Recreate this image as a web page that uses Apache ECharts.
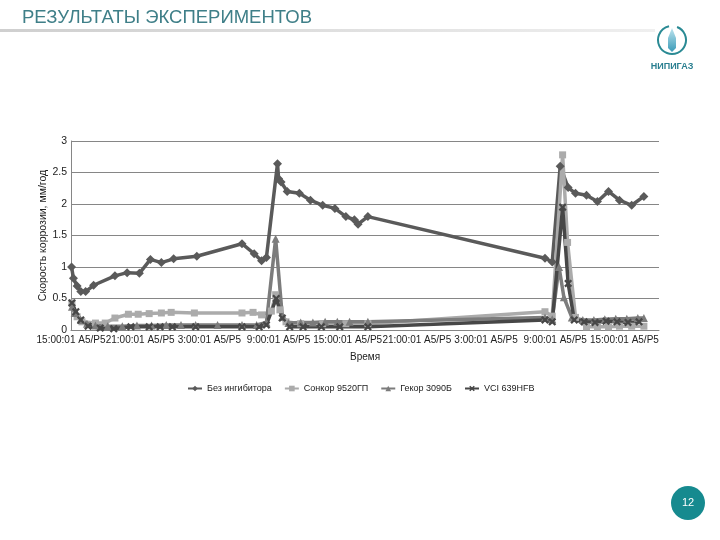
<!DOCTYPE html>
<html>
<head>
<meta charset="utf-8">
<script src="https://cdn.jsdelivr.net/npm/echarts@6/dist/echarts.min.js"></script>
<style>html,body{margin:0;padding:0;background:#fff;}#c{width:720px;height:540px;}</style>
</head>
<body>
<div id="c"></div>
<script>
// X tick labels (every 6 hours)
var tickLabels = ['15:00:01 A5/P5','21:00:01 A5/P5','3:00:01 A5/P5','9:00:01 A5/P5','15:00:01 A5/P5','21:00:01 A5/P5','3:00:01 A5/P5','9:00:01 A5/P5','15:00:01 A5/P5'];
var seriesNames = ['Без ингибитора','Сонкор 9520ГП','Гекор 3090Б','VCI 639HFB'];

// Series 1: Без ингибитора (hours from start, mm/year)
var t1 = [0.05,0.21,0.53,0.85,1.27,1.96,3.81,4.87,5.93,6.89,7.84,8.9,10.91,14.83,15.89,16.53,16.95,17.91,18.01,18.22,18.75,19.81,20.77,21.83,22.89,23.84,24.58,24.9,25.75,41.11,41.74,42.43,43.12,43.76,44.71,45.66,46.62,47.57,48.63,49.69];
var v1 = [1.0,0.82,0.7,0.61,0.61,0.71,0.86,0.91,0.9,1.12,1.07,1.13,1.17,1.37,1.21,1.1,1.15,2.64,2.4,2.35,2.2,2.17,2.06,1.98,1.93,1.8,1.75,1.68,1.8,1.14,1.08,2.6,2.26,2.17,2.14,2.04,2.2,2.06,1.98,2.12];

// Series 2: Сонкор 9520ГП
var t2 = [0.08,0.53,0.95,2.12,2.97,3.81,4.98,5.83,6.78,7.84,8.69,10.7,14.83,15.79,16.53,17.38,17.75,18.12,18.65,19.92,21.83,23.84,25.75,41.11,41.74,42.64,43.07,43.76,44.71,45.66,46.62,47.57,48.63,49.69];
var v2 = [0.43,0.21,0.13,0.11,0.11,0.19,0.25,0.25,0.26,0.27,0.28,0.27,0.27,0.28,0.24,0.3,0.56,0.32,0.13,0.1,0.1,0.1,0.1,0.29,0.22,2.78,1.39,0.2,0.05,0.05,0.05,0.06,0.06,0.06];

// Series 3: Гекор 3090Б
var t3 = [0.08,0.32,0.85,1.38,2.12,3.18,4.45,5.72,6.99,8.26,9.54,10.81,12.71,14.83,16.1,16.95,17.75,18.33,18.86,19.92,20.98,22.04,23.1,24.16,25.75,41.11,41.74,42.33,42.75,43.44,44.39,45.35,46.3,47.25,48.21,49.16,49.69];
var v3 = [0.37,0.27,0.16,0.1,0.07,0.06,0.06,0.07,0.07,0.08,0.08,0.08,0.08,0.08,0.08,0.12,1.45,0.21,0.11,0.12,0.12,0.13,0.13,0.13,0.13,0.2,0.17,1.0,0.52,0.2,0.16,0.16,0.17,0.18,0.18,0.19,0.19];

// Series 4: VCI 639HFB
var t4 = [0.08,0.42,0.85,1.48,2.54,3.71,5.19,6.78,7.73,8.79,10.81,14.83,16.32,16.95,17.8,18.33,18.97,20.13,21.72,23.31,25.75,41.11,41.74,42.64,43.12,43.65,44.5,45.45,46.41,47.36,48.31,49.27];
var v4 = [0.43,0.29,0.16,0.06,0.03,0.02,0.05,0.05,0.05,0.05,0.05,0.05,0.05,0.08,0.5,0.19,0.05,0.05,0.05,0.05,0.05,0.16,0.13,1.95,0.74,0.16,0.13,0.12,0.14,0.13,0.12,0.13];

function pairs(t, v) { return t.map(function (x, i) { return [x, v[i]]; }); }

var colors = ['#5a5a5a','#ababab','#7c7c7c','#474747'];
var symbols = ['diamond','rect','triangle','path://M0,2L2,0L5,3L8,0L10,2L7,5L10,8L8,10L5,7L2,10L0,8L3,5Z'];
var sizes = [9,7,8,8];
var datas = [pairs(t1,v1), pairs(t2,v2), pairs(t3,v3), pairs(t4,v4)];

var chart = echarts.init(document.getElementById('c'));
var series = seriesNames.map(function (n, i) {
  return {
    name: n, type: 'line', data: datas[i],
    symbol: symbols[i], symbolSize: sizes[i], showAllSymbol: true,
    lineStyle: { color: colors[i], width: 3.5 },
    itemStyle: { color: colors[i] },
    emphasis: { disabled: true }
  };
});

chart.setOption({
  animation: false,
  backgroundColor: '#fff',
  textStyle: { fontFamily: 'Liberation Sans, Arial, sans-serif' },
  grid: { left: 71, right: 61, top: 141, bottom: 210, containLabel: false },
  legend: {
    data: seriesNames, left: 182, top: 379,
    itemWidth: 14, itemHeight: 7, itemGap: 12,
    textStyle: { fontSize: 9, color: '#222', fontFamily: 'Liberation Sans, Arial, sans-serif' }
  },
  xAxis: {
    type: 'value', min: 0, max: 51, interval: 6,
    name: 'Время', nameLocation: 'middle', nameGap: 22,
    nameTextStyle: { fontSize: 10, color: '#222' },
    axisLine: { show: true, lineStyle: { color: '#868686' } },
    axisTick: { show: false },
    splitLine: { show: false },
    axisLabel: {
      fontSize: 10, color: '#222', margin: 5, showMaxLabel: false,
      formatter: function (v) { return (v % 6 === 0) ? tickLabels[v / 6] : ''; }
    }
  },
  yAxis: {
    type: 'value', min: 0, max: 3, interval: 0.5,
    name: 'Скорость коррозии, мм/год', nameLocation: 'middle', nameGap: 22,
    nameMoveOverlap: false,
    nameTextStyle: { fontSize: 10.5, color: '#222' },
    axisLine: { show: true, lineStyle: { color: '#868686' } },
    axisTick: { show: false },
    splitLine: { lineStyle: { color: '#868686', width: 1 } },
    axisLabel: { fontSize: 10.5, color: '#222', margin: 4 }
  },
  series: series,
  graphic: [
    { type: 'rect', shape: { x: 0, y: 29, width: 655, height: 3 },
      style: { fill: new echarts.graphic.LinearGradient(0, 0, 1, 0, [{offset: 0, color: '#cfcfcf'}, {offset: 1, color: '#efefef'}]) }, silent: true },
    { type: 'text', left: 22, top: 8,
      style: { text: 'РЕЗУЛЬТАТЫ ЭКСПЕРИМЕНТОВ', fontSize: 18.5, fill: '#3f7f88', fontFamily: 'Liberation Sans, Arial, sans-serif' } },
    { type: 'arc', shape: { cx: 672, cy: 40, r: 14, startAngle: -1.2, endAngle: 4.5 },
      style: { stroke: '#2a8a94', lineWidth: 2, fill: null } },
    { type: 'polygon', shape: { points: [[672,28],[676,38],[676,48],[672,52],[668,48],[668,38]] },
      style: { fill: new echarts.graphic.LinearGradient(0, 0, 0, 1, [{offset: 0, color: '#bde3ee'}, {offset: 1, color: '#3a9bb8'}]) } },
    { type: 'text', x: 672, y: 67,
      style: { text: 'НИПИГАЗ', fontSize: 9, fontWeight: 'bold', fill: '#2a7f90', align: 'center', verticalAlign: 'middle', fontFamily: 'Liberation Sans, Arial, sans-serif' } },
    { type: 'circle', shape: { cx: 688, cy: 503, r: 17 }, style: { fill: '#168a8f' } },
    { type: 'text', x: 688, y: 503,
      style: { text: '12', fontSize: 11, fill: '#fff', align: 'center', verticalAlign: 'middle', fontFamily: 'Liberation Sans, Arial, sans-serif' } }
  ]
});
</script>
</body>
</html>
